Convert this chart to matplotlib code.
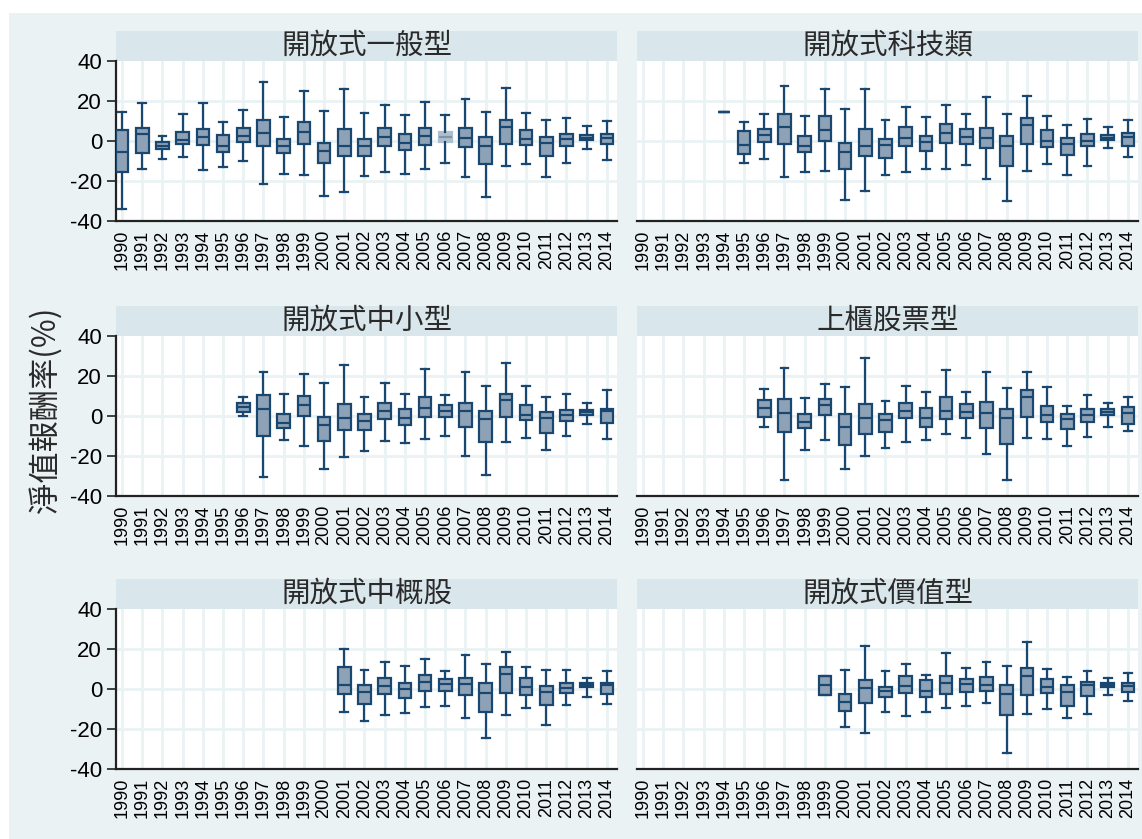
import matplotlib
matplotlib.use("Agg")
import matplotlib.pyplot as plt
from matplotlib.patches import Rectangle

years = list(range(1990, 2015))
year_labels = [str(y) for y in years]

titles = ["開放式一般型", "開放式科技類", "開放式中小型", "上櫃股票型", "開放式中概股", "開放式價值型"]
start_years = [1990, 1994, 1996, 1996, 2001, 1999]

# 開放式一般型 (1990-2014)
gen_hi = [14.5, 19, 2.5, 13.5, 19, 9.3, 15.3, 29.3, 12.2, 25.2, 15, 26.2, 14, 18.2, 13, 19.3, 13, 21.2, 14.3, 26.5, 14, 10.3, 11.3, 7.5, 10]
gen_q3 = [5.7, 6.7, -0.7, 4.7, 6, 3, 6.7, 10.3, 1.2, 9.3, -1, 6, 1.2, 6.3, 3.5, 6.3, 4.5, 6.7, 2, 10.3, 5.7, 2, 3.3, 2.8, 3.3]
gen_med = [-5.7, 3.7, -2.3, 0.3, 2, -2.7, 2.7, 4.2, -2.7, 4.7, -4.8, -2.3, -2.3, 2, -1, 2.7, 2, 1.7, -2.3, 7, 1.2, -0.8, 1, 1.7, 1.7]
gen_q1 = [-15.5, -5.8, -4, -1.3, -2, -5.7, -0.3, -2.3, -6, -1.3, -11, -7.3, -7.3, -2.7, -4.3, -2, -0.5, -3, -11.7, -1.3, -2, -7.5, -2.3, 0.3, -1.7]
gen_lo = [-34, -13.8, -8.8, -8, -14.5, -13, -9.8, -21.7, -16.3, -16.8, -27.3, -25.7, -17.3, -15.7, -16.3, -13.8, -11, -17.8, -28, -12.7, -11.3, -18.2, -11, -4, -9.7]

# 開放式科技類 (1994-2014)
tech_hi = [14.5, 9.3, 13.7, 27.3, 12.3, 25.8, 15.8, 26.2, 10.3, 17.2, 11.8, 18.2, 13.3, 22, 13.7, 22.7, 12.7, 8.2, 11.2, 6.8, 10.7]
tech_q3 = [14.5, 5.2, 6.2, 13.7, 2.5, 12.5, -1.2, 5.8, 1, 7, 2.5, 8.5, 5.8, 6.7, 2.5, 11.3, 5.5, 1.7, 3.7, 2.8, 4]
tech_med = [14.5, -2, 2.8, 7, -2.3, 5.7, -5.5, -2.5, -1.8, 1.3, -0.7, 3.8, 2.2, 1.7, -2.3, 8.2, -0.2, -1.5, 0.2, 1.7, 1.8]
tech_q1 = [14.5, -6.3, -0.3, -1.5, -5.5, 0, -13.8, -7.5, -8.5, -2.5, -4.8, -1, -1.3, -3.3, -12.5, -1.5, -3.2, -7, -2.7, 0.3, -2.3]
tech_lo = [14.5, -11, -9.2, -17.8, -15.5, -14.8, -29.3, -24.8, -16.8, -15.5, -14, -14, -12, -18.8, -30, -15, -11.7, -16.8, -12.5, -3.3, -8]

# 開放式中小型 (1996-2014)
sm_hi = [9.7, 21.8, 11.2, 20.9, 16.4, 25.4, 9.5, 16.4, 10.9, 23.4, 10.7, 21.9, 15.1, 26.4, 15.1, 9.7, 11.2, 6.7, 12.9]
sm_q3 = [6.7, 10.4, 0.8, 9.9, -0.7, 6, 1.2, 6.4, 3.5, 9.4, 5.7, 6.4, 2.7, 10.9, 5.4, 1.8, 2.8, 3, 3.7]
sm_med = [4.7, 3.7, -3.7, 5.5, -4.5, -0.8, -2.5, 2.3, -1.2, 4, 2.7, 2.3, -1.7, 8.2, 0.5, -0.8, 0.7, 1.8, 2.3]
sm_q1 = [2.2, -10, -5.9, 0, -12.7, -7, -7.2, -1.7, -4.7, -0.7, -0.7, -5.4, -13.1, -0.7, -2, -8.4, -2.3, 0.7, -3.3]
sm_lo = [-0.2, -30.6, -12.2, -15.2, -26.6, -20.4, -17.6, -12.7, -13.4, -11.7, -10.2, -20.1, -29.5, -13.1, -11.2, -17.2, -10.2, -4.2, -11.4]

# 上櫃股票型 (1996-2014)
otc_hi = [13.4, 24, 8.9, 15.8, 14.5, 28.9, 7.7, 15.1, 11.8, 22.9, 11.8, 21.8, 13.9, 22.2, 14.6, 4.9, 10.6, 6.7, 9.4]
otc_q3 = [7.9, 8.6, 0.8, 8.6, 0.8, 5.9, 0.8, 6.4, 3.9, 9.4, 5.9, 7.1, 3.5, 13.1, 4.9, 1.2, 3.4, 3.5, 4.5]
otc_med = [4.2, 1.7, -3.2, 5.7, -5.4, -0.8, -2.2, 2.7, -0.8, 2.7, 2.2, 1.3, -0.8, 9.7, 0.7, -1.5, 0.5, 2.2, 1.5]
otc_q1 = [-0.3, -8, -6.2, 0.7, -14.3, -9.2, -7.9, -1, -5.5, -1.7, -1, -5.9, -13.8, -0.3, -2.9, -6.6, -2.9, 0.3, -3.9]
otc_lo = [-5.7, -31.9, -16.8, -11.8, -26.6, -20.2, -16, -12.9, -11.8, -9.2, -11.1, -19.2, -31.9, -11.1, -11.4, -14.8, -10.4, -5.4, -7.7]

# 開放式中概股 (2001-2014)
cn_hi = [20.2, 9.5, 13.4, 11.5, 15.1, 8.9, 17.2, 12.6, 18.6, 11.2, 9.7, 9.7, 5.7, 9]
cn_q3 = [11.2, 1.8, 5.5, 3.2, 7, 4.9, 5.7, 2.8, 10.9, 5.5, 1.5, 2.8, 2.8, 3.2]
cn_med = [1.8, -1.3, 1.5, 0.2, 3.3, 2.3, 2.3, -2, 7.7, 0.8, -1.7, 0.5, 1.8, 1.8]
cn_q1 = [-2.5, -7.7, -2.5, -4.5, -1, -1, -2.8, -11.5, -1.8, -2.8, -8, -2, 0.8, -2.3]
cn_lo = [-11.4, -15.9, -13.1, -11.9, -9.2, -8.5, -14.4, -24.6, -12.9, -9.7, -17.9, -7.9, -3.8, -7.4]

# 開放式價值型 (1999-2014)
val_hi = [6.4, 9.5, 21.6, 9.2, 12.6, 7, 18.2, 10.5, 13.4, 11.5, 23.6, 9.9, 6.2, 9.2, 5.5, 8.2]
val_q3 = [6.4, -2.3, 4.7, 1.2, 6.7, 4.7, 6.4, 5, 5.9, 1.8, 10.5, 5.2, 1.8, 3.5, 2.8, 3]
val_med = [2, -6.5, 0.3, -1.2, 1.3, -1, 3, 2.7, 2, -2.7, 6.7, 1, -1.7, 2.2, 2, 1.3]
val_q1 = [-3, -10.9, -7.2, -4.2, -2, -3.8, -2.3, -1.7, -1, -13.1, -3, -2, -8.5, -3.3, 0.8, -1.7]
val_lo = [-3, -18.9, -21.9, -11.7, -13.6, -11.4, -9.5, -8.4, -7.2, -32, -12.4, -10.2, -14.4, -12.4, -2.8, -5.9]

panels = [
    (gen_lo, gen_q1, gen_med, gen_q3, gen_hi),
    (tech_lo, tech_q1, tech_med, tech_q3, tech_hi),
    (sm_lo, sm_q1, sm_med, sm_q3, sm_hi),
    (otc_lo, otc_q1, otc_med, otc_q3, otc_hi),
    (cn_lo, cn_q1, cn_med, cn_q3, cn_hi),
    (val_lo, val_q1, val_med, val_q3, val_hi),
]
light_boxes = {(0, 2006)}

BG = "#EAF2F3"
STRIP = "#D9E6EB"
NAVY = "#1A476F"
FILL = "#8EA2B7"
LIGHT_FILL = "#AFBFCD"
CJK = ["Noto Sans CJK TC", "DejaVu Sans"]
plt.rcParams["font.family"] = ["Liberation Sans", "DejaVu Sans"]

W, H = 1142, 839
fig = plt.figure(figsize=(W / 100, H / 100), dpi=100, facecolor="white")
fig.patches.append(Rectangle((9 / W, 0), 1, 1 - 13 / H, transform=fig.transFigure,
                             facecolor=BG, edgecolor="none", zorder=-10))

col_x = [116, 637]
col_w = 501
row_top = [61, 336, 609]
row_h = 160

for i, (title, sy, stats) in enumerate(zip(titles, start_years, panels)):
    r, c = divmod(i, 2)
    left = col_x[c] / W
    bottom = 1 - (row_top[r] + row_h) / H
    ax = fig.add_axes([left, bottom, col_w / W, row_h / H])
    ax.set_facecolor("white")
    lo, q1, med, q3, hi = stats
    n = len(lo)
    pos = [years.index(sy + k) for k in range(n)]
    bx = []
    bx_light = []
    pos_n, pos_l = [], []
    for k in range(n):
        d = dict(whislo=lo[k], q1=q1[k], med=med[k], q3=q3[k], whishi=hi[k], fliers=[])
        if (i, sy + k) in light_boxes:
            bx_light.append(d); pos_l.append(pos[k])
        else:
            bx.append(d); pos_n.append(pos[k])
    ax.bxp(bx, positions=pos_n, widths=0.62, patch_artist=True, showfliers=False,
           manage_ticks=False,
           boxprops=dict(facecolor=FILL, edgecolor=NAVY, linewidth=1.6),
           medianprops=dict(color=NAVY, linewidth=1.6),
           whiskerprops=dict(color=NAVY, linewidth=1.6),
           capprops=dict(color=NAVY, linewidth=1.6), capwidths=0.38, zorder=3)
    if bx_light:
        ax.bxp(bx_light, positions=pos_l, widths=0.62, patch_artist=True, showfliers=False,
               manage_ticks=False,
               boxprops=dict(facecolor=LIGHT_FILL, edgecolor=LIGHT_FILL, linewidth=1.6),
               medianprops=dict(color="#7F95AB", linewidth=1.6),
               whiskerprops=dict(color=NAVY, linewidth=1.6),
               capprops=dict(color=NAVY, linewidth=1.6), capwidths=0.38, zorder=3)

    ax.set_xlim(-0.3, 24.5)
    ax.set_ylim(-40, 40)
    ax.set_xticks(range(len(years)))
    ax.set_xticklabels(year_labels, rotation=90, fontsize=13, color="black")
    ax.set_yticks([-40, -20, 0, 20, 40])
    for y in [-20, 0, 20]:
        ax.axhline(y, color=BG, linewidth=2, zorder=1)
    for x in range(len(years)):
        ax.axvline(x, color=BG, linewidth=2, zorder=1)
    ax.tick_params(axis="x", length=0, pad=6.5)
    for s in ["top", "right"]:
        ax.spines[s].set_visible(False)
    ax.spines["bottom"].set_color("#222222")
    ax.spines["bottom"].set_linewidth(1.6)
    if c == 0:
        ax.set_yticklabels(["-40", "-20", "0", "20", "40"], fontsize=16)
        ax.tick_params(axis="y", length=6.5, width=1.2, color="#222222", pad=3.5)
        ax.spines["left"].set_color("#222222")
        ax.spines["left"].set_linewidth(1.6)
    else:
        ax.set_yticklabels([])
        ax.tick_params(axis="y", length=0)
        ax.spines["left"].set_visible(False)
    strip_h = 30 / row_h
    ax.add_patch(Rectangle((0, 1.0), 1, strip_h, transform=ax.transAxes,
                           facecolor=STRIP, edgecolor="none", clip_on=False, zorder=0))
    ax.text(0.5, 1.0 + strip_h / 2, title, transform=ax.transAxes, ha="center", va="center",
            fontsize=20.5, family=CJK, color="#2a2a2a")

fig.text(45 / W, 1 - 410 / H, "淨值報酬率(%)", rotation=90, ha="center", va="center",
         fontsize=22.5, family=CJK, color="#2a2a2a")

fig.savefig("out.png", dpi=100, facecolor="white")
